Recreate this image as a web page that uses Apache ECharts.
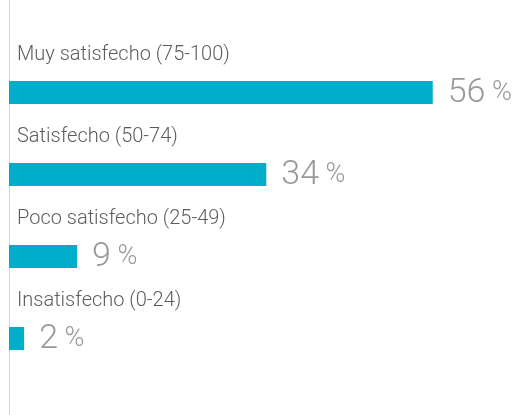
<!DOCTYPE html>
<html><head><meta charset="utf-8">
<script src="https://cdn.jsdelivr.net/npm/echarts@6/dist/echarts.min.js"></script>
<style>html,body{margin:0;padding:0;background:#fff}#c{width:521px;height:415px}</style>
</head><body><div id="c"></div>
<script>
const categories = ["Muy satisfecho (75-100)", "Satisfecho (50-74)", "Poco satisfecho (25-49)", "Insatisfecho (0-24)"];
const values = [56, 34, 9, 2];

const chart = echarts.init(document.getElementById('c'));
chart.setOption({
  animation: false,
  grid: [
    {left: 9, right: 58, top: 51.5, height: 328},
    {left: 9, width: 100, top: 0, bottom: 0}
  ],
  xAxis: [
    {type: 'value', min: 0, max: 60, show: false, gridIndex: 0},
    {type: 'value', min: 0, max: 1, show: false, gridIndex: 1}
  ],
  yAxis: [
    {type: 'category', data: categories, inverse: true, gridIndex: 0,
     axisLine: {show: false}, axisTick: {show: false}, axisLabel: {show: false}},
    {type: 'value', min: 0, max: 1, gridIndex: 1,
     axisLine: {show: true, lineStyle: {color: '#d9d9d9', width: 1}},
     axisTick: {show: false}, axisLabel: {show: false}, splitLine: {show: false}}
  ],
  series: [{
    type: 'bar', data: values, barWidth: 23, xAxisIndex: 0, yAxisIndex: 0,
    itemStyle: {color: '#00aec9'},
    label: {show: true, position: 'right', distance: 15, offset: [0, 1],
      formatter: p => '{n|' + p.value + '}{p| %}',
      rich: {
        n: {fontFamily: 'Roboto', fontWeight: 300, fontSize: 34, color: '#999'},
        p: {fontFamily: 'Roboto', fontWeight: 300, fontSize: 27, color: '#999'}
      }}
  }, {
    type: 'scatter', xAxisIndex: 0, yAxisIndex: 0, symbolSize: 0, silent: true,
    data: categories.map(c => [0, c]),
    label: {show: true, position: 'right', distance: 8, offset: [0, -38],
      formatter: p => p.value[1],
      fontFamily: 'Roboto', fontWeight: 300, fontSize: 20, color: '#333'}
  }]
});
</script></body></html>
